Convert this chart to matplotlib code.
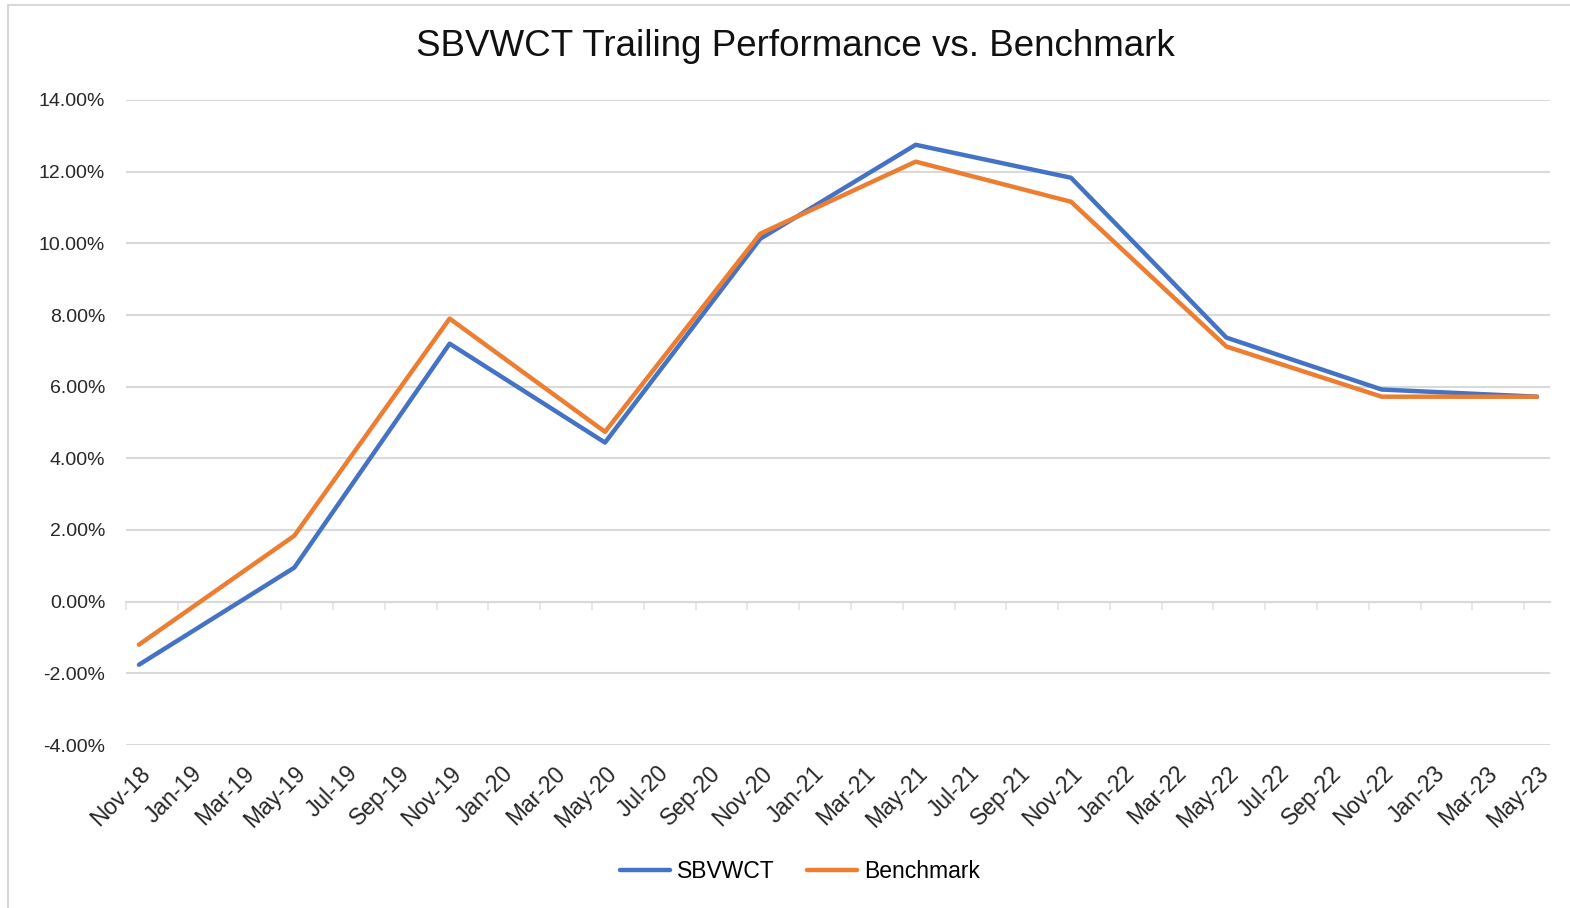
import matplotlib
matplotlib.use("Agg")
import matplotlib.pyplot as plt
from matplotlib.patches import Rectangle

plt.rcParams["font.family"] = ["Liberation Sans", "DejaVu Sans"]

# every month on the axis, labels shown every second month
months = ["Nov-18", "Dec-18", "Jan-19", "Feb-19", "Mar-19", "Apr-19", "May-19", "Jun-19",
          "Jul-19", "Aug-19", "Sep-19", "Oct-19", "Nov-19", "Dec-19", "Jan-20", "Feb-20",
          "Mar-20", "Apr-20", "May-20", "Jun-20", "Jul-20", "Aug-20", "Sep-20", "Oct-20",
          "Nov-20", "Dec-20", "Jan-21", "Feb-21", "Mar-21", "Apr-21", "May-21", "Jun-21",
          "Jul-21", "Aug-21", "Sep-21", "Oct-21", "Nov-21", "Dec-21", "Jan-22", "Feb-22",
          "Mar-22", "Apr-22", "May-22", "Jun-22", "Jul-22", "Aug-22", "Sep-22", "Oct-22",
          "Nov-22", "Dec-22", "Jan-23", "Feb-23", "Mar-23", "Apr-23", "May-23"]

# observation dates and trailing returns (%)
dates = ["Nov-18", "May-19", "Nov-19", "May-20", "Nov-20",
         "May-21", "Nov-21", "May-22", "Nov-22", "May-23"]
sbvwct = [-1.76, 0.95, 7.20, 4.44, 10.13, 12.75, 11.83, 7.37, 5.92, 5.72]
benchmark = [-1.20, 1.84, 7.90, 4.74, 10.27, 12.28, 11.16, 7.12, 5.72, 5.72]

y_ticks = [-4, -2, 0, 2, 4, 6, 8, 10, 12, 14]

x = [months.index(d) for d in dates]
label_pos = list(range(0, len(months), 2))

fig = plt.figure(figsize=(15.7, 9.08), dpi=100)
ax = fig.add_axes([126 / 1570, 1 - 745 / 908, (1550 - 126) / 1570, 645 / 908])

grid_col = "#D9D9D9"
ax.plot(x, sbvwct, color="#4472C4", lw=3.2, label="SBVWCT", solid_capstyle="round", zorder=3)
ax.plot(x, benchmark, color="#ED7D31", lw=3.2, label="Benchmark", solid_capstyle="round", zorder=3)

ax.set_xlim(-0.5, len(months) - 0.5)
ax.set_ylim(-4, 14)
ax.set_yticks(y_ticks)
ax.set_yticklabels([f"{v:.2f}%" for v in y_ticks])
ax.yaxis.grid(True, color=grid_col, lw=1.5)
ax.set_axisbelow(True)
for s in ax.spines.values():
    s.set_visible(False)
ax.tick_params(axis="y", length=0, pad=15, labelsize=14, labelcolor="#262626")

ax.set_xticks(label_pos)
ax.set_xticklabels([months[i] for i in label_pos], rotation=45, ha="right",
                   rotation_mode="anchor")
ax.tick_params(axis="x", length=0, pad=12, labelsize=16.5, labelcolor="#262626")

# category axis line at 0% with tick marks on month boundaries
sec = ax.secondary_xaxis(4 / 18)
sec.set_xticks([i - 0.5 for i in label_pos])
sec.set_xticklabels([])
sec.spines["bottom"].set_color(grid_col)
sec.spines["bottom"].set_linewidth(1.5)
sec.tick_params(axis="x", length=6, width=1.2, color="#E4E4E4", direction="out")

fig.text(795 / 1570, 1 - 47 / 908, "SBVWCT Trailing Performance vs. Benchmark",
         ha="center", va="center", fontsize=26.5, color="#111111")

fig.legend(loc="center", bbox_to_anchor=(800 / 1570, 1 - 872 / 908), ncol=2,
           frameon=False, fontsize=16.5, handlelength=2.2, handletextpad=0.3,
           columnspacing=1.4)

# outer chart border
fig.patches.append(Rectangle((8 / 1570, -0.05), 1.1, 1 - 5 / 908 + 0.05,
                             transform=fig.transFigure, fill=False,
                             edgecolor="#D0D0D0", lw=1.2))

fig.savefig("out.png", dpi=100)
